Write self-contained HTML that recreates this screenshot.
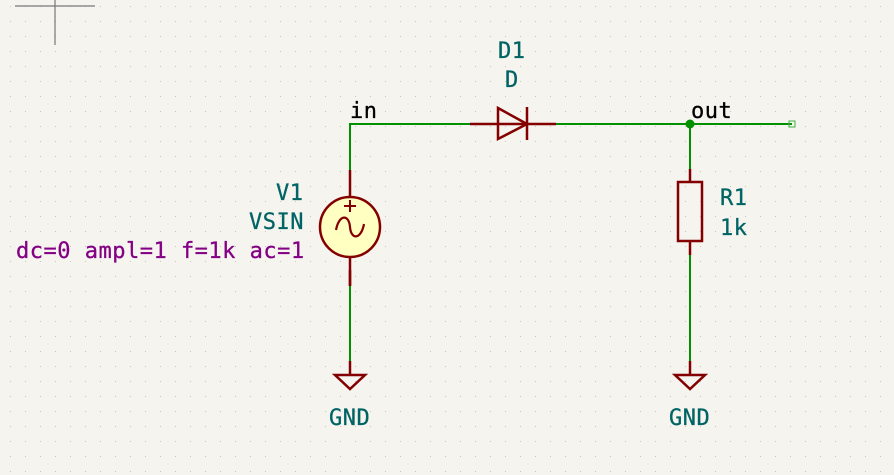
<!DOCTYPE html>
<html><head><meta charset="utf-8"><style>
html,body{margin:0;padding:0;background:#f5f4ef;}
svg{display:block}
text{font-family:"DejaVu Sans Mono","Liberation Mono",monospace;letter-spacing:0.5px;stroke-width:0.3px;}
</style></head><body>
<svg width="894" height="475" viewBox="0 0 894 475">
<defs><pattern id="g" x="10" y="6" width="15" height="15" patternUnits="userSpaceOnUse"><rect x="-0.7" y="-0.7" width="1.6" height="1.6" fill="#bcbbb4"/></pattern></defs>
<rect width="894" height="475" fill="#f5f4ef"/>
<rect width="894" height="475" fill="url(#g)"/>
<g stroke="#777" stroke-width="1.2"><line x1="15" y1="6" x2="95" y2="6"/><line x1="55" y1="0" x2="55" y2="45"/></g>
<g stroke="#009000" stroke-width="2" fill="none">
<polyline points="350,170 350,124 470,124"/>
<line x1="556" y1="124" x2="792" y2="124"/>
<line x1="690" y1="124" x2="690" y2="169"/>
<line x1="350" y1="286" x2="350" y2="361"/>
<line x1="690" y1="255" x2="690" y2="361"/>
</g>
<circle cx="690" cy="124" r="4.5" fill="#009000"/>
<rect x="789" y="121" width="6" height="6" fill="none" stroke="#3fb13f" stroke-width="1"/>
<g stroke="#840000" stroke-width="2.5" fill="none">
<line x1="350" y1="170" x2="350" y2="197"/><line x1="350" y1="257" x2="350" y2="286"/>
<circle cx="350" cy="227" r="30" fill="#ffffc2"/>
<line x1="344" y1="206" x2="356" y2="206" stroke-width="2"/><line x1="350" y1="200" x2="350" y2="212" stroke-width="2"/>
<path d="M336,230 C339,214 349,214 350,227 C351,240 361,240 364,224" stroke-width="2.2"/>
</g>
<g stroke="#840000" stroke-width="2.5" fill="none">
<line x1="470" y1="124" x2="556" y2="124"/>
<polygon points="498,108 527,124 498,139"/>
<line x1="527" y1="107" x2="527" y2="140"/>
</g>
<g stroke="#840000" stroke-width="2.5" fill="none">
<line x1="690" y1="169" x2="690" y2="181"/><line x1="690" y1="241" x2="690" y2="255"/>
<rect x="678" y="182" width="24" height="59"/>
</g>
<g stroke="#840000" stroke-width="2.5" fill="none">
<line x1="350" y1="270" x2="350" y2="286"/><line x1="350" y1="361" x2="350" y2="375"/>
<polygon points="335,375 365,375 350,389"/>
</g>
<g stroke="#840000" stroke-width="2.5" fill="none">
<line x1="690" y1="361" x2="690" y2="375"/>
<polygon points="675,375 705,375 690,389"/>
</g>
<g font-size="22" fill="#006464" stroke="#006464">
<text x="498" y="58">D1</text>
<text x="505" y="87">D</text>
<text x="276" y="200">V1</text>
<text x="249" y="229">VSIN</text>
<text x="720" y="205">R1</text>
<text x="720" y="235">1k</text>
<text x="329" y="425">GND</text>
<text x="669" y="425">GND</text>
</g>
<text x="16" y="258" font-size="22" fill="#840084" stroke="#840084">dc=0 ampl=1 f=1k ac=1</text>
<text x="350" y="118" font-size="22" fill="#000" stroke="#000">in</text>
<text x="691" y="118" font-size="22" fill="#000" stroke="#000">out</text>
</svg>
</body></html>
